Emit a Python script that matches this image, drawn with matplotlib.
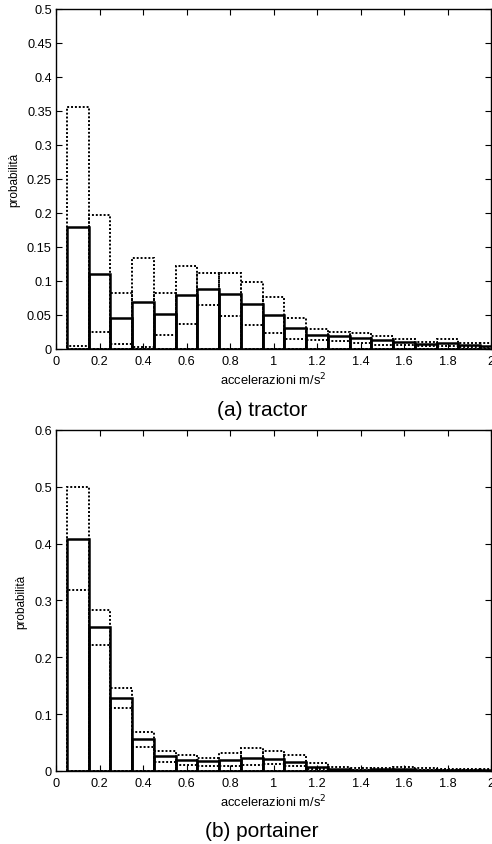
import matplotlib
matplotlib.use("Agg")
import matplotlib.pyplot as plt
import numpy as np

plt.rcParams["font.family"] = ["Liberation Sans", "DejaVu Sans"]

# bin centres (m/s^2)
centers = np.round(np.arange(0.1, 2.01, 0.1), 2)

# (a) tractor
tractor_mean = [0.179, 0.110, 0.0456, 0.0696, 0.052, 0.080, 0.0887, 0.081, 0.066, 0.050,
                0.031, 0.021, 0.019, 0.016, 0.0127, 0.0103, 0.0078, 0.0088, 0.0064, 0.005]
tractor_upper = [0.356, 0.1975, 0.083, 0.134, 0.083, 0.122, 0.112, 0.112, 0.099, 0.077,
                 0.046, 0.029, 0.0255, 0.024, 0.0196, 0.015, 0.0108, 0.014, 0.0093, 0.0093]
tractor_lower = [0.005, 0.025, 0.0078, 0.0034, 0.0206, 0.037, 0.064, 0.049, 0.036, 0.024,
                 0.015, 0.0137, 0.012, 0.0093, 0.0059, 0.0059, 0.0044, 0.0044, 0.0034, 0.0034]

# (b) portainer
port_mean = [0.408, 0.253, 0.129, 0.056, 0.026, 0.019, 0.0176, 0.019, 0.023, 0.021,
             0.0165, 0.007, 0.004, 0.0024, 0.003, 0.003, 0.0025, 0.002, 0.002, 0.002]
port_upper = [0.499, 0.283, 0.146, 0.069, 0.036, 0.028, 0.0235, 0.032, 0.040, 0.035,
              0.028, 0.014, 0.007, 0.0047, 0.006, 0.007, 0.006, 0.004, 0.0035, 0.003]
port_lower = [0.319, 0.222, 0.110, 0.042, 0.016, 0.0106, 0.009, 0.009, 0.010, 0.013,
              0.008, 0.0035, 0.002, 0.001, 0.001, 0.001, 0.001, 0.001, 0.001, 0.001]

xticks = np.round(np.arange(0, 2.01, 0.2), 1)
xtick_labels = ["0", "0.2", "0.4", "0.6", "0.8", "1", "1.2", "1.4", "1.6", "1.8", "2"]


def draw_hist(ax, mean, upper, lower, ymax, ystep):
    kw = dict(width=0.1, fill=False, edgecolor="black")
    ax.bar(centers, upper, linestyle=(0, (1, 1)), linewidth=1.4, **kw)
    ax.bar(centers, mean, linestyle="-", linewidth=1.8, **kw)
    ax.bar(centers, lower, linestyle=(0, (1, 1)), linewidth=1.4, zorder=3, **kw)
    ax.set_xlim(0, 2)
    ax.set_ylim(0, ymax)
    ax.set_xticks(xticks)
    ax.set_xticklabels(xtick_labels)
    yt = np.round(np.arange(0, ymax + 1e-9, ystep), 3)
    ax.set_yticks(yt)
    ax.set_yticklabels([f"{v:g}" for v in yt])
    ax.tick_params(direction="in", top=True, right=True, length=4, width=0.8,
                   labelsize=9.2, colors="black")
    ax.tick_params(axis="x", pad=4)
    ax.tick_params(axis="y", pad=3)
    for spine in ax.spines.values():
        spine.set_linewidth(1.0)
    ax.set_xlabel("accelerazioni m/s$^2$", fontsize=9.3, labelpad=3)
    ax.set_ylabel("probabilità", fontsize=8.5, labelpad=5)


fig = plt.figure(figsize=(4.92, 8.45), dpi=100)
ax1 = fig.add_axes([56 / 492, 0.5858, 435 / 492, 0.4024])
ax2 = fig.add_axes([56 / 492, 0.0864, 435 / 492, 0.4036])

draw_hist(ax1, tractor_mean, tractor_upper, tractor_lower, 0.5, 0.05)
draw_hist(ax2, port_mean, port_upper, port_lower, 0.6, 0.1)

fig.text(262 / 492, 1 - 410 / 845, "(a) tractor", ha="center", va="center", fontsize=15)
fig.text(262 / 492, 1 - 832 / 845, "(b) portainer", ha="center", va="center", fontsize=15)

fig.savefig("out.png", dpi=100)
